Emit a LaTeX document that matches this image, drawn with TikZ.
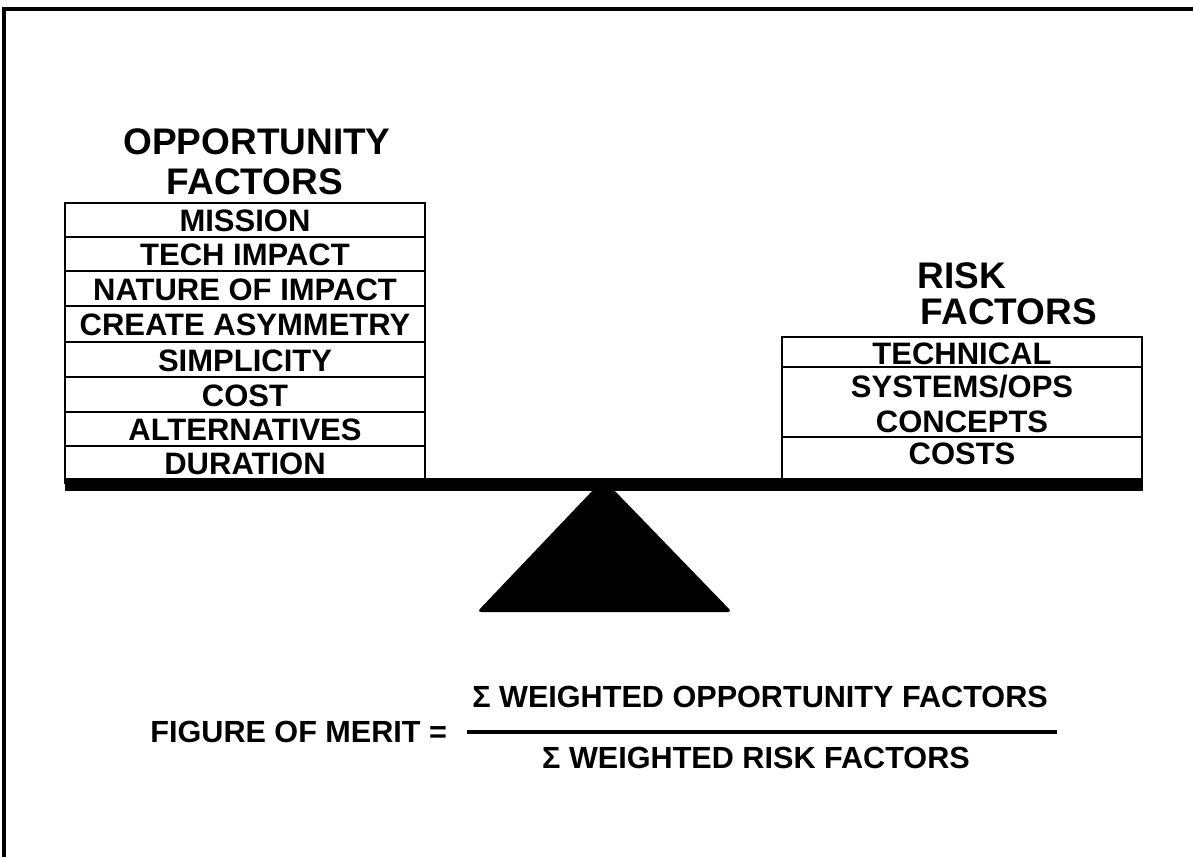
\documentclass[tikz,border=0pt]{standalone}
\usepackage{fontspec}
\setmainfont{Liberation Sans}
\begin{document}
\begin{tikzpicture}[x=0.5pt,y=-0.5pt,
  frame/.style={line width=1.8pt},
  boxline/.style={line width=1.4pt},
  divline/.style={line width=1.1pt},
  lbl/.style={font=\fontsize{15.5}{18}\selectfont\bfseries, inner sep=0pt, anchor=base},
  ttl/.style={font=\fontsize{18.5}{22}\selectfont\bfseries, inner sep=0pt, anchor=base},
  frm/.style={font=\fontsize{15.3}{18}\selectfont\bfseries, inner sep=0pt, anchor=base}]
\useasboundingbox (0,0) rectangle (1193,857);
% outer frame (top and left only)
\draw[frame] (1193,9) -- (4,9) -- (4,857);
% left stack
\draw[boxline] (65,484) -- (65,203) -- (425,203) -- (425,484);
\foreach \yy in {237,271,306,342,377,412,446}
  \draw[divline] (65,\yy) -- (425,\yy);
% right stack
\draw[boxline] (782,484) -- (782,337) -- (1142,337) -- (1142,484);
\foreach \yy in {367,437}
  \draw[divline] (782,\yy) -- (1142,\yy);
% beam and fulcrum
\fill (65,478) rectangle (1143,491);
\fill[rounded corners=2pt] (594,489) -- (613,489) -- (732,612) -- (477,612) -- cycle;
% titles
\node[ttl] (opp) at (257,154) {OPPORTUNITY};
\node[ttl] (oppf) at (255,194) {FACTORS};
\node[ttl] (risk) at (962,288) {RISK};
\node[ttl] (riskf) at (1009,324) {FACTORS};
% left labels
\node[lbl] (l1) at (245,231) {MISSION};
\node[lbl] (l2) at (245,265) {TECH IMPACT};
\node[lbl] (l3) at (245,300) {NATURE OF IMPACT};
\node[lbl] (l4) at (245,335) {CREATE ASYMMETRY};
\node[lbl] (l5) at (245,371) {SIMPLICITY};
\node[lbl] (l6) at (245,406) {COST};
\node[lbl] (l7) at (245,440) {ALTERNATIVES};
\node[lbl] (l8) at (245,474) {DURATION};
% right labels
\node[lbl] (r1) at (962,364) {TECHNICAL};
\node[lbl] (r2) at (962,397) {SYSTEMS/OPS};
\node[lbl] (r3) at (962,432) {CONCEPTS};
\node[lbl] (r4) at (962,464) {COSTS};
% formula
\node[frm, anchor=base west] (fom) at (150,742) {FIGURE OF MERIT =};
\node[frm] (num) at (760,707) {Σ WEIGHTED OPPORTUNITY FACTORS};
\node[frm] (den) at (756,768) {Σ WEIGHTED RISK FACTORS};
\coordinate (fl) at (467,732);
\coordinate (fr) at (1057,732);
\draw[line width=2pt] (fl) -- (fr);
\end{tikzpicture}
\end{document}
